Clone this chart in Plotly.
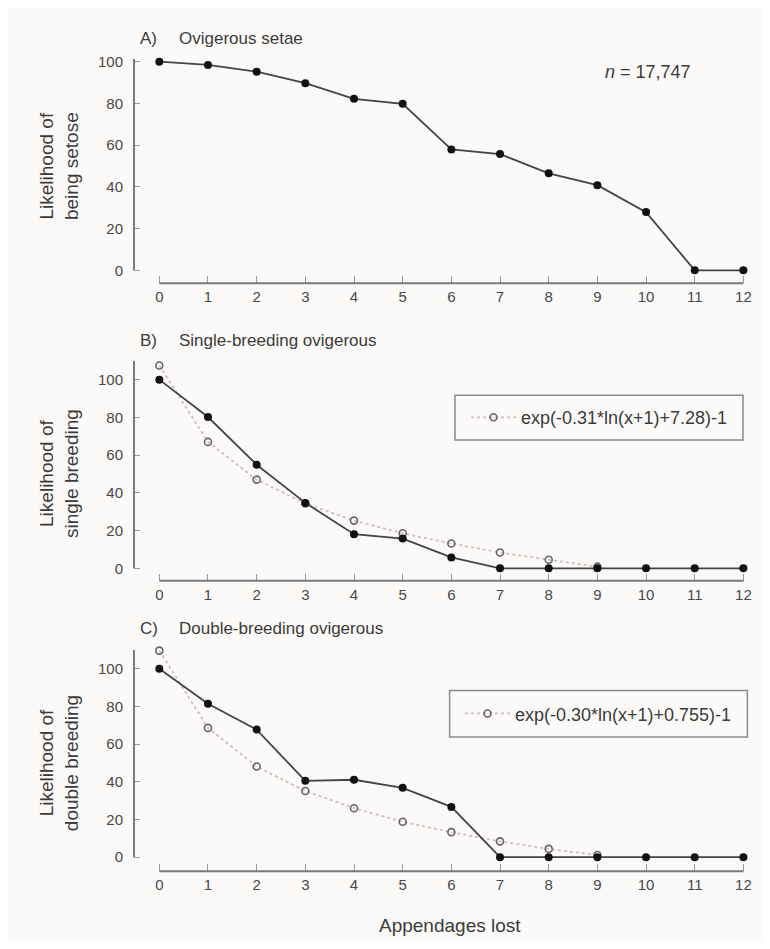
import plotly.graph_objects as go

# ---------------- data ----------------
appendages = list(range(13))
x_ticks = list(range(13))
y_ticks = [0, 20, 40, 60, 80, 100]

setose = [100, 98.4, 95.2, 89.7, 82.2, 79.8, 57.9, 55.7, 46.5, 40.8, 27.9, 0, 0]

single_obs = [100, 80.2, 54.9, 34.7, 18.1, 15.8, 5.8, 0, 0, 0, 0, 0, 0]
single_fit_x = list(range(10))
single_fit = [107.5, 67.0, 47.0, 34.4, 25.3, 18.6, 13.2, 8.4, 4.6, 0.9]

double_obs = [100, 81.4, 67.7, 40.5, 41.1, 36.8, 26.7, 0, 0, 0, 0, 0, 0]
double_fit_x = list(range(10))
double_fit = [109.6, 68.6, 48.1, 35.1, 26.0, 18.8, 13.3, 8.4, 4.4, 1.2]

single_fit_name = "exp(-0.31*ln(x+1)+7.28)-1"
double_fit_name = "exp(-0.30*ln(x+1)+0.755)-1"

panel_letters = ["A)", "B)", "C)"]
panel_titles = ["Ovigerous setae", "Single-breeding ovigerous", "Double-breeding ovigerous"]
y_titles = ["Likelihood of<br>being setose", "Likelihood of<br>single breeding",
            "Likelihood of<br>double breeding"]
x_title = "Appendages lost"
n_label = "<i>n</i> = 17,747"

# ---------------- style / layout helpers ----------------
OFF = 8                      # page body margin
W, H = 770 - 2 * OFF, 949 - 2 * OFF
BG = "#fcfaf8"
TXT = "#3a3a3a"
TICK = "#484848"
AX = "#7a7a7a"
FONT = "Liberation Sans, Arial, sans-serif"


def fx(px):
    return (px - OFF) / W


def fy(py):
    return 1 - (py - OFF) / H


x_dom = [fx(134), fx(758)]
x_rng = [-0.52, 12.3]
y_doms = [[fy(279), fy(53)], [fy(578.3), fy(357)], [fy(870.7), fy(648)]]
y_rngs = [[-6.2, 101.4], [-6.5, 110], [-7.4, 110]]
ytitle_y = [161, 471, 762]
title_y = [32.7, 336.7, 626.7]

fig = go.Figure()

obs_line = dict(color="#444444", width=1.8)
obs_marker = dict(color="#111111", size=8, symbol="circle")
fit_line = dict(color="#cfbcbc", width=1.8, dash="dot")
fit_marker = dict(color="#666666", size=7, symbol="circle-open", line=dict(width=1.6, color="#666666"))

# Panel A
fig.add_trace(go.Scatter(x=appendages, y=setose, mode="lines+markers", line=obs_line,
                         marker=obs_marker, showlegend=False, cliponaxis=False,
                         xaxis="x", yaxis="y"))
# Panel B
fig.add_trace(go.Scatter(x=single_fit_x, y=single_fit, mode="lines+markers", line=fit_line,
                         marker=fit_marker, name=single_fit_name, legend="legend",
                         cliponaxis=False, xaxis="x2", yaxis="y2"))
fig.add_trace(go.Scatter(x=appendages, y=single_obs, mode="lines+markers", line=obs_line,
                         marker=obs_marker, showlegend=False, cliponaxis=False,
                         xaxis="x2", yaxis="y2"))
# Panel C
fig.add_trace(go.Scatter(x=double_fit_x, y=double_fit, mode="lines+markers", line=fit_line,
                         marker=fit_marker, name=double_fit_name, legend="legend2",
                         cliponaxis=False, xaxis="x3", yaxis="y3"))
fig.add_trace(go.Scatter(x=appendages, y=double_obs, mode="lines+markers", line=obs_line,
                         marker=obs_marker, showlegend=False, cliponaxis=False,
                         xaxis="x3", yaxis="y3"))

layout = dict(
    width=W, height=H,
    margin=dict(l=0, r=0, t=0, b=0),
    paper_bgcolor=BG, plot_bgcolor=BG,
    font=dict(family=FONT, color=TXT),
    shapes=[], annotations=[],
)

for i in range(3):
    sx = "" if i == 0 else str(i + 1)
    layout["xaxis" + sx] = dict(
        domain=x_dom, range=x_rng, anchor="y" + sx,
        tickmode="array", tickvals=x_ticks, ticktext=[str(t) for t in x_ticks],
        ticks="inside", ticklen=7, tickwidth=1, tickcolor="#9a9a9a",
        showline=False, showgrid=False, zeroline=False,
        tickfont=dict(size=15, color=TICK, family=FONT), ticklabelstandoff=3,
        fixedrange=True,
    )
    layout["yaxis" + sx] = dict(
        domain=y_doms[i], range=y_rngs[i], anchor="x" + sx,
        tickmode="array", tickvals=y_ticks, ticktext=[str(t) for t in y_ticks],
        ticks="inside", ticklen=6, tickwidth=1, tickcolor="#9a9a9a",
        showline=False, showgrid=False, zeroline=False,
        tickfont=dict(size=15, color=TICK, family=FONT), ticklabelstandoff=10,
        fixedrange=True,
    )
    # detached axis lines
    layout["shapes"].append(dict(type="line", xref="x" + sx, yref="y" + sx + " domain",
                                 x0=0, x1=12, y0=0, y1=0, line=dict(color=AX, width=2)))
    layout["shapes"].append(dict(type="line", xref="x" + sx + " domain", yref="y" + sx,
                                 x0=0, x1=0, y0=0, y1=y_rngs[i][1], line=dict(color=AX, width=2)))
    # panel titles
    layout["annotations"].append(dict(text=panel_letters[i], xref="paper", yref="paper",
                                      x=fx(138), y=fy(title_y[i]), xanchor="left",
                                      yanchor="middle", showarrow=False,
                                      font=dict(size=17, color=TXT, family=FONT)))
    layout["annotations"].append(dict(text=panel_titles[i], xref="paper", yref="paper",
                                      x=fx(177), y=fy(title_y[i]), xanchor="left",
                                      yanchor="middle", showarrow=False,
                                      font=dict(size=17, color=TXT, family=FONT)))
    # y titles
    layout["annotations"].append(dict(text=y_titles[i], xref="paper", yref="paper",
                                      x=fx(59), y=fy(ytitle_y[i]), xanchor="center",
                                      yanchor="middle", textangle=-90, showarrow=False,
                                      font=dict(size=19, color=TXT, family=FONT)))

layout["annotations"].append(dict(text=n_label, xref="paper", yref="paper",
                                  x=fx(603), y=fy(66), xanchor="left", yanchor="middle",
                                  showarrow=False, font=dict(size=18, color=TXT, family=FONT)))
layout["annotations"].append(dict(text=x_title, xref="paper", yref="paper",
                                  x=fx(450), y=fy(925), xanchor="center", yanchor="middle",
                                  showarrow=False, font=dict(size=19, color=TXT, family=FONT)))

# legend frames
for (x0, x1, y0, y1) in [(455, 743, 391.7, 436.7), (449.6, 747.4, 689, 735.7)]:
    layout["shapes"].append(dict(type="rect", xref="paper", yref="paper",
                                 x0=fx(x0), x1=fx(x1), y0=fy(y1), y1=fy(y0),
                                 line=dict(color="#8a8a8a", width=1.5), fillcolor="rgba(0,0,0,0)"))

legend_common = dict(bgcolor="rgba(0,0,0,0)", borderwidth=0,
                     font=dict(size=18, color=TXT, family=FONT), itemwidth=45,
                     xanchor="left", yanchor="middle", itemclick=False, itemdoubleclick=False)
layout["legend"] = dict(legend_common, x=fx(466), y=fy(414.2))
layout["legend2"] = dict(legend_common, x=fx(460), y=fy(712.3))

fig.update_layout(**layout)
fig.write_html("out.html")
